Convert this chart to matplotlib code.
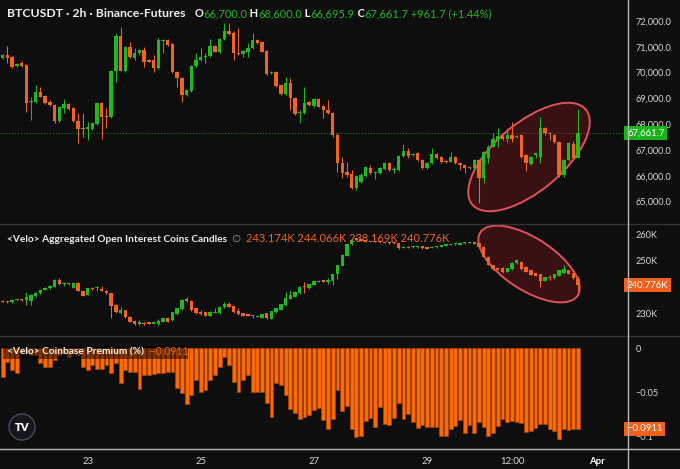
import matplotlib
matplotlib.use("Agg")
import matplotlib.pyplot as plt
from matplotlib.patches import Ellipse, Rectangle, Circle
from matplotlib.lines import Line2D
import numpy as np

plt.rcParams['font.family'] = ['Lato', 'DejaVu Sans']

BG = '#0e0e0e'
GREEN = '#1fba1f'
ORANGE = '#f0641e'
BAR_ORANGE = '#ff6a00'
TXT = '#d8d8d8'

# ---- BTCUSDT 2h candles (O, H, L, C) ----
price_open = [70550, 70680, 70590, 70256, 70360, 70295, 68870, 68870, 69260, 69090,
              68870, 68744, 68137, 68615, 68783, 68615, 68137, 67853, 67801, 67801,
              68008, 68835, 68290, 68266, 70075, 71432, 70075, 71005, 70553, 70747,
              70876, 70488, 70488, 70165, 71240, 71264, 71096, 70036, 69778, 69132,
              69300, 70269, 70488, 70592, 70643, 71031, 70811, 71289, 71612, 71522,
              70773, 70721, 70811, 70966, 71264, 71199, 70837, 69972, 70036, 69519,
              69171, 69584, 69003, 68420, 68421, 68873, 68705, 68964, 68705, 68550,
              68447, 67581, 66480, 66160, 66070, 65514, 65773, 65992, 66290, 66100,
              66100, 66250, 66483, 66230, 66225, 66767, 66961, 66793, 66870, 66612,
              66290, 66483, 66845, 66716, 66560, 66548, 66742, 66509, 66430, 66320,
              66290, 66612, 65900, 66700, 67129, 67400, 67543, 67413, 67581, 67490,
              67581, 66793, 66450, 66800, 66742, 67840, 67646, 67581, 67323, 66030,
              66612, 67233, 66700]
price_high = [70720, 71030, 70640, 70380, 70450, 70330, 69070, 69520, 69430, 69150,
              68930, 68780, 68700, 68964, 68830, 68650, 68421, 68421, 68098, 68080,
              68870, 68870, 68615, 70100, 71522, 71755, 71050, 71199, 70941, 70920,
              71005, 70530, 70682, 71328, 71289, 71300, 71130, 70080, 69820, 69360,
              70300, 70747, 70941, 70747, 71289, 71070, 71330, 71935, 71910, 71625,
              71716, 70870, 71134, 71548, 71300, 71230, 70870, 70080, 70070, 69550,
              69842, 69810, 69040, 68550, 69429, 68910, 69000, 69000, 68740, 68938,
              68480, 67672, 66740, 66550, 66225, 66030, 66100, 66380, 66420, 66200,
              66330, 66550, 66520, 66350, 66800, 67233, 67060, 66870, 66935, 66650,
              66540, 67060, 66900, 66760, 66600, 66935, 66780, 66550, 66470, 66350,
              66650, 66650, 66970, 67190, 67646, 67840, 67580, 67840, 68098, 67580,
              67620, 66830, 66780, 66900, 68292, 67880, 67680, 67620, 67360, 66650,
              67300, 67360, 68600]
price_low = [70510, 70360, 70165, 70220, 70230, 68490, 68160, 68840, 69040, 68800,
             68700, 68034, 68100, 68421, 68550, 68100, 67284, 67491, 67388, 67760,
             67960, 67413, 67840, 68230, 69649, 70050, 70030, 70580, 70488, 70700,
             70230, 70400, 70036, 70130, 70773, 71030, 70000, 69429, 68873, 69090,
             69260, 70230, 70450, 70359, 70600, 70780, 70770, 71250, 71440, 70488,
             70700, 70618, 70618, 70930, 71100, 70780, 69900, 69940, 69440, 69130,
             69140, 68550, 68360, 68059, 68400, 68710, 68680, 68650, 68227, 68400,
             67517, 66160, 65900, 65970, 65475, 65450, 65730, 65960, 66060, 65860,
             66060, 66220, 66200, 66100, 66200, 66740, 66700, 66770, 66580, 66250,
             66260, 66450, 66650, 66480, 66490, 66520, 66450, 66225, 66100, 66260,
             66260, 64930, 65730, 66500, 67100, 67129, 67380, 67320, 67320, 67450,
             66700, 66200, 66420, 66700, 66483, 67600, 67390, 67290, 65966, 65966,
             66580, 66600, 66695.9]
price_close = [70680, 70550, 70230, 70333, 70256, 68835, 68910, 69260, 69070, 68835,
               68744, 68137, 68654, 68783, 68576, 68137, 67801, 67801, 67880, 68034,
               68835, 68266, 68266, 70075, 71432, 70075, 71005, 70618, 70773, 70876,
               70424, 70424, 70165, 71264, 71270, 71070, 70036, 69778, 69132, 69326,
               70269, 70488, 70592, 70643, 71031, 70811, 71289, 71612, 71483, 70747,
               70721, 70837, 70966, 71264, 71134, 70811, 69946, 70036, 69481, 69171,
               69584, 69003, 68395, 68447, 68835, 68744, 68964, 68680, 68550, 68421,
               67581, 66480, 66100, 66030, 65514, 65992, 66030, 66328, 66100, 66130,
               66290, 66483, 66225, 66260, 66767, 66961, 66767, 66845, 66612, 66290,
               66509, 66845, 66677, 66548, 66520, 66742, 66483, 66419, 66290, 66290,
               66612, 65900, 66935, 67129, 67413, 67543, 67413, 67581, 67413, 67543,
               66742, 66483, 66742, 66870, 67840, 67646, 67620, 67323, 66030, 66612,
               67258, 66700, 67661.7]

# ---- Aggregated open interest (K coins) ----
oi_open = [234.81, 234.56, 234.31, 235.06, 235.56, 235.19, 234.81, 236.69, 237.69, 238.95,
           239.57, 240.20, 242.71, 241.08, 241.33, 239.82, 241.70, 238.57, 237.07, 239.82,
           239.57, 239.32, 238.70, 237.69, 233.31, 230.18, 231.43, 228.92, 227.29, 226.04,
           226.67, 226.79, 226.29, 226.04, 227.04, 228.55, 227.54, 229.80, 231.80, 235.56,
           234.81, 232.06, 230.55, 230.55, 229.30, 230.45, 230.18, 232.43, 233.56, 233.06,
           231.05, 230.18, 229.80, 229.55, 228.92, 228.55, 230.18, 228.05, 230.55, 231.43,
           233.31, 235.56, 236.44, 237.69, 240.45, 239.57, 240.83, 242.08, 242.58, 242.08,
           242.33, 244.84, 248.10, 251.85, 256.12, 258.37, 258.12, 257.74, 256.99, 257.37,
           257.24, 256.99, 256.87, 256.74, 256.49, 254.74, 255.24, 254.99, 254.99, 255.49,
           254.99, 254.74, 254.99, 255.24, 255.49, 255.86, 256.12, 255.86, 256.49, 256.74,
           256.87, 256.49, 255.24, 251.48, 248.35, 247.09, 247.34, 245.84, 246.72, 248.97,
           249.60, 247.72, 246.47, 245.21, 244.96, 242.46, 243.96, 243.33, 244.21, 245.21,
           246.47, 245.21, 243.174]
oi_high = [235.00, 234.70, 235.40, 235.30, 235.70, 238.32, 237.30, 238.10, 239.10, 240.00,
           240.80, 242.90, 243.33, 242.08, 241.50, 241.90, 241.90, 238.70, 239.80, 240.00,
           240.58, 240.58, 238.90, 237.90, 233.50, 232.68, 231.60, 229.10, 227.50, 227.67,
           226.80, 226.90, 226.90, 227.92, 228.50, 228.70, 230.80, 232.30, 235.40, 236.44,
           235.00, 232.20, 231.43, 230.70, 231.00, 232.06, 232.90, 234.31, 234.31, 233.20,
           232.31, 230.30, 229.90, 229.70, 229.40, 230.00, 230.30, 231.20, 232.20, 233.70,
           238.32, 238.95, 238.50, 240.40, 241.83, 241.30, 242.50, 242.60, 242.70, 243.33,
           245.00, 248.50, 252.30, 256.30, 258.40, 258.50, 258.20, 257.90, 257.50, 257.50,
           257.40, 257.10, 257.00, 256.90, 256.60, 255.40, 255.40, 255.40, 255.60, 255.60,
           255.10, 255.40, 255.60, 256.00, 256.40, 256.40, 256.60, 256.90, 257.10, 257.10,
           257.00, 256.60, 255.40, 251.60, 248.50, 247.20, 247.50, 247.20, 249.40, 250.60,
           249.80, 247.90, 246.60, 245.30, 245.10, 243.90, 244.59, 245.00, 246.60, 248.35,
           246.60, 245.40, 244.066]
oi_low = [234.40, 233.94, 234.10, 234.90, 234.90, 233.31, 233.31, 236.50, 237.50, 238.80,
          239.40, 240.00, 240.90, 240.45, 240.90, 239.60, 238.40, 236.60, 236.90, 239.10,
          238.57, 238.40, 237.50, 228.55, 230.30, 229.80, 228.40, 226.80, 225.80, 225.79,
          225.90, 226.10, 226.10, 225.90, 226.90, 226.80, 227.30, 229.60, 231.60, 234.31,
          231.20, 230.00, 229.55, 229.10, 229.10, 230.18, 230.00, 232.30, 232.50, 230.30,
          229.60, 229.10, 229.10, 228.55, 228.80, 228.40, 228.10, 227.90, 230.40, 231.30,
          233.10, 235.40, 236.30, 237.50, 237.69, 239.40, 240.70, 241.90, 241.90, 241.08,
          240.83, 243.08, 247.90, 251.60, 256.00, 257.60, 257.40, 257.00, 256.90, 256.90,
          256.70, 256.60, 256.40, 256.40, 254.50, 254.60, 254.60, 254.90, 254.90, 254.50,
          254.40, 254.60, 254.90, 255.10, 255.40, 255.70, 256.00, 255.70, 256.40, 256.60,
          256.10, 255.10, 251.30, 248.20, 246.50, 246.30, 245.40, 245.70, 246.60, 248.80,
          246.60, 245.70, 244.40, 244.10, 240.20, 242.30, 242.71, 243.20, 244.10, 245.10,
          244.80, 243.20, 238.169]
oi_close = [234.56, 234.31, 235.19, 235.19, 235.06, 236.44, 237.07, 237.94, 238.95, 239.82,
            240.58, 242.71, 241.08, 241.45, 241.08, 241.70, 238.57, 236.82, 239.57, 239.32,
            240.20, 238.57, 237.69, 233.06, 230.55, 231.43, 228.67, 227.04, 226.04, 227.04,
            226.04, 226.29, 226.79, 227.29, 228.30, 227.04, 230.55, 232.06, 235.19, 234.81,
            231.43, 230.18, 230.05, 229.30, 230.80, 230.60, 232.68, 233.56, 232.68, 230.55,
            229.80, 229.30, 229.30, 229.30, 229.30, 229.80, 228.30, 231.05, 232.06, 233.56,
            236.07, 237.07, 238.32, 240.20, 239.95, 241.08, 242.33, 242.46, 242.08, 242.71,
            244.84, 248.35, 252.11, 256.12, 257.90, 257.74, 257.49, 257.12, 257.37, 256.99,
            256.87, 256.74, 256.49, 256.49, 254.61, 255.24, 254.74, 255.24, 255.49, 254.61,
            254.49, 255.24, 255.49, 255.86, 256.24, 256.24, 256.49, 256.74, 256.99, 256.99,
            256.24, 255.24, 251.48, 248.35, 246.72, 246.47, 245.59, 247.09, 249.22, 250.23,
            246.72, 245.84, 244.59, 244.21, 242.46, 243.71, 243.46, 244.84, 246.47, 246.72,
            244.96, 243.33, 240.776]

# ---- Coinbase premium (%) ----
premium = [-0.0320, -0.0151, -0.0245, -0.0275, -0.0057, -0.0057, -0.0075, -0.0075, -0.0170, -0.0207,
           -0.0207, -0.0132, -0.0075, -0.0057, -0.0094, -0.0057, -0.0075, -0.0207, -0.0245, -0.0189,
           -0.0238, -0.0238, -0.0189, -0.0275, -0.0170, -0.0396, -0.0245, -0.0264, -0.0264, -0.0464,
           -0.0302, -0.0302, -0.0290, -0.0283, -0.0283, -0.0264, -0.0264, -0.0452, -0.0509, -0.0630,
           -0.0528, -0.0358, -0.0490, -0.0471, -0.0358, -0.0302, -0.0207, -0.0094, -0.0189, -0.0377,
           -0.0490, -0.0358, -0.0302, -0.0490, -0.0490, -0.0490, -0.0622, -0.0780, -0.0396, -0.0415,
           -0.0528, -0.0690, -0.0728, -0.0803, -0.0781, -0.0754, -0.0698, -0.0679, -0.0811, -0.0916,
           -0.0803, -0.0471, -0.0705, -0.0652, -0.0916, -0.1007, -0.0992, -0.0818, -0.0792, -0.0894,
           -0.0667, -0.0856, -0.0867, -0.0792, -0.0622, -0.0803, -0.0743, -0.0830, -0.0905, -0.0867,
           -0.0886, -0.0886, -0.0894, -0.0988, -0.0988, -0.0916, -0.0879, -0.0811, -0.0962, -0.0867,
           -0.0954, -0.0830, -0.0886, -0.0992, -0.0954, -0.0879, -0.0803, -0.0830, -0.0822, -0.0830,
           -0.0848, -0.0943, -0.0931, -0.0905, -0.0856, -0.0856, -0.0916, -0.0931, -0.1029, -0.0916,
           -0.0924, -0.0916, -0.0911]

# x axis: candle index, labels at these candles
time_ticks = [18, 42, 66, 90, 108, 126]
time_labels = ['23', '25', '27', '29', '12:00', 'Apr']

price_ticks = [65000, 66000, 67000, 68000, 69000, 70000, 71000, 72000]
oi_ticks = [230, 250, 260]   # 240K sits under the last-value tag
prem_ticks = [0, -0.05, -0.1]
prem_labels = ['0', '\u22120.05', '\u22120.1']

n = len(price_open)
for arr in (price_high, price_low, price_close, oi_open, oi_high, oi_low, oi_close, premium):
    assert len(arr) == n, len(arr)

W, H = 680, 469
fig = plt.figure(figsize=(W / 100, H / 100), dpi=100, facecolor=BG)
AXW = 627


def pane(top, bottom):
    ax = fig.add_axes([0, (H - bottom) / H, AXW / W, (bottom - top) / H])
    ax.set_facecolor(BG)
    for s in ax.spines.values():
        s.set_visible(False)
    ax.yaxis.tick_right()
    ax.tick_params(axis='y', length=0, pad=6, labelsize=6.6, labelcolor=TXT)
    ax.tick_params(axis='x', length=0, labelbottom=False)
    return ax


def draw_candles(ax, o, h, l, c, min_body):
    x = np.arange(len(o))
    o, h, l, c = map(np.asarray, (o, h, l, c))
    cols = np.where(c >= o, GREEN, ORANGE)
    ax.vlines(x, l, h, colors=cols, linewidth=0.75, zorder=2)
    lo = np.minimum(o, c)
    hgt = np.maximum(np.abs(c - o), min_body)
    ax.bar(x, hgt, bottom=lo, width=0.72, color=cols, linewidth=0, zorder=3)


def header(ax, y, pieces):
    # pieces: (text, color, size, weight), chained left to right
    s, col, size, weight = pieces[0]
    t = ax.text(7 / AXW, y, s, color=col, transform=ax.transAxes,
                fontsize=size, fontweight=weight, va='baseline', ha='left', zorder=6)
    for s, col, size, weight in pieces[1:]:
        t = ax.annotate(s, xy=(1, 0), xycoords=t, xytext=(0, 0), textcoords='offset points',
                        color=col, fontsize=size, fontweight=weight, va='bottom', ha='left',
                        zorder=6)
    return t


def price_tag(ax, y, label, color):
    ax.text(1.0, y, label, transform=ax.get_yaxis_transform(), color='white',
            fontsize=6.8, va='center', ha='left', clip_on=False, zorder=10,
            bbox=dict(boxstyle='square,pad=0.28', fc=color, ec='none'))


XLIM = (-0.573, 132.4)
WHITE = '#f0f0f0'

# ---- pane 1: price ----
ax1 = pane(0, 224)
draw_candles(ax1, price_open, price_high, price_low, price_close, 40)
ax1.axhline(price_close[-1], color=GREEN, lw=0.7, ls=(0, (1, 2)), alpha=0.8, zorder=1)
ax1.set_yticks(price_ticks)
ax1.set_yticklabels([f'{v:,.1f}' for v in price_ticks])
ax1.add_patch(Ellipse((529 / 100, (H - 157) / 100), 1.48, 0.68, angle=40,
                      transform=fig.dpi_scale_trans, fc=(0.6, 0.1, 0.12, 0.32),
                      ec='#e0525c', lw=1.4, zorder=1.5))
ax1.set_xlim(*XLIM)
ax1.set_ylim(64132, 72814)
price_tag(ax1, price_close[-1], f'{price_close[-1]:,.1f}', '#18b418')
hs = 7.9
header(ax1, 1 - 17.3 / 224,
       [('BTCUSDT \u00b7 2h \u00b7 Binance-Futures   ', WHITE, 8.8, 'bold'),
        ('O', WHITE, hs, 'bold'), (f'{price_open[-1]:,.1f}', GREEN, hs, 'normal'),
        (' H', WHITE, hs, 'bold'), (f'{price_high[-1]:,.1f}', GREEN, hs, 'normal'),
        (' L', WHITE, hs, 'bold'), (f'{price_low[-1]:,.1f}', GREEN, hs, 'normal'),
        (' C', WHITE, hs, 'bold'), (f'{price_close[-1]:,.1f}', GREEN, hs, 'normal'),
        (' +961.7 (+1.44%)', GREEN, hs, 'normal')])

# ---- pane 2: open interest ----
ax2 = pane(224, 336)
draw_candles(ax2, oi_open, oi_high, oi_low, oi_close, 0.35)
ax2.set_yticks(oi_ticks)
ax2.set_yticklabels([f'{v}K' for v in oi_ticks])
ax2.add_patch(Ellipse((529 / 100, (H - 264) / 100), 1.16, 0.52, angle=-33,
                      transform=fig.dpi_scale_trans, fc=(0.6, 0.1, 0.12, 0.32),
                      ec='#e0525c', lw=1.4, zorder=1.5))
ax2.set_xlim(*XLIM)
ax2.set_ylim(221.65, 263.76)
price_tag(ax2, oi_close[-1], f'{oi_close[-1]:.3f}K', '#f2601a')
header(ax2, 1 - 17.5 / 112,
       [('<Velo> Aggregated Open Interest Coins Candles', WHITE, 7.3, 'bold'),
        ('  \u2205  ', '#9a9a9a', 7.4, 'normal'),
        (f'{oi_open[-1]:.3f}K {oi_high[-1]:.3f}K {oi_low[-1]:.3f}K {oi_close[-1]:.3f}K',
         ORANGE, 8.0, 'normal')])

# ---- pane 3: coinbase premium ----
ax3 = pane(336, 450)
ax3.bar(np.arange(n), premium, width=0.82, color=BAR_ORANGE, edgecolor='#b04800',
        linewidth=0.4, zorder=2)
ax3.set_yticks(prem_ticks)
ax3.set_yticklabels(prem_labels)
ax3.set_xlim(*XLIM)
ax3.set_ylim(-0.115, 0.0139)
ax3.set_xticks(time_ticks)
ax3.set_xticklabels(time_labels)
ax3.tick_params(axis='x', length=0, pad=5, labelbottom=True, labelsize=6.8, labelcolor=TXT)
ax3.get_xticklabels()[-1].set_fontweight('bold')
ax3.get_xticklabels()[-1].set_color('white')
ax3.add_patch(Rectangle((3 / AXW, (450 - 359) / 114), 185 / AXW, 13 / 114,
                        transform=ax3.transAxes, fc=(0, 0, 0, 0.5), ec='none', zorder=5))
price_tag(ax3, premium[-1], f'\u2212{abs(premium[-1]):.4f}', '#f2601a')
header(ax3, 1 - 18.5 / 114,
       [('<Velo> Coinbase Premium (%)', WHITE, 7.3, 'bold'),
        ('  \u2212' + f'{abs(premium[-1]):.4f}', ORANGE, 7.6, 'normal')])

# TradingView badge
ax3.add_patch(Circle((22 / 100, (H - 427) / 100), 0.13, transform=fig.dpi_scale_trans,
                     fc='#15171c', ec='#4a4d57', lw=1.0, zorder=6, clip_on=False))
fig.text(22 / W, (H - 427) / H, 'TV', color='white', fontsize=8, fontweight='heavy',
         ha='center', va='center', zorder=7)

# separators
for y, col in ((224, '#333333'), (336, '#333333'), (448.5, '#b8b8b8')):
    fig.add_artist(Line2D([0, 1], [(H - y) / H] * 2, transform=fig.transFigure, color=col, lw=1.0))
fig.add_artist(Line2D([(AXW + 0.5) / W] * 2, [0, 1], transform=fig.transFigure, color='#b8b8b8', lw=1.0))

fig.savefig('out.png', dpi=100, facecolor=BG)
